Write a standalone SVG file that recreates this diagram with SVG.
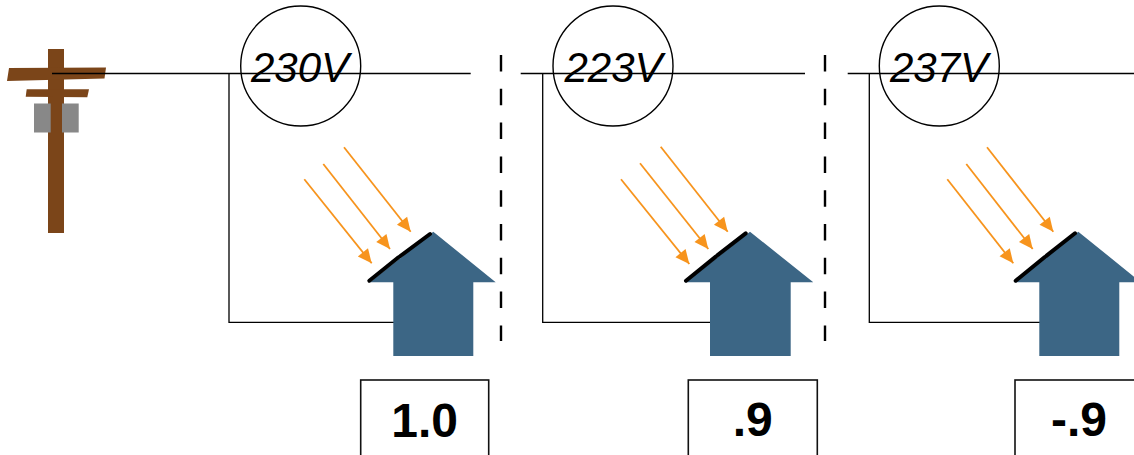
<svg xmlns="http://www.w3.org/2000/svg" width="1134" height="455" viewBox="0 0 1134 455">
  <style>
    .wire { fill: none; stroke: #000; stroke-width: 1.3; }
    .sep { fill: none; stroke: #000; stroke-width: 2.4; stroke-dasharray: 16.5 17.3; }
    .meter { fill: none; stroke: #000; stroke-width: 1.4; }
    .volt { font-family: "Liberation Sans", Arial, sans-serif; font-style: italic; font-size: 42px; text-anchor: middle; fill: #000; }
    .ray { fill: none; stroke: #F7941D; stroke-width: 1.8; marker-end: url(#sun); }
    .house { fill: #3C6685; }
    .panel { fill: none; stroke: #000; stroke-width: 4; stroke-linecap: round; }
    .box { fill: #fff; stroke: #111; stroke-width: 1.6; }
    .val { font-family: "Liberation Sans", Arial, sans-serif; font-weight: bold; font-size: 48px; text-anchor: middle; fill: #000; }
    .wood { fill: #7B4519; }
    .xfmr { fill: #888; }
  </style>
  <defs>
    <marker id="sun" markerUnits="userSpaceOnUse" markerWidth="15" markerHeight="13" refX="14" refY="6.5" orient="auto" overflow="visible">
      <path d="M0,0 L14,6.5 L0,13 z" fill="#F7941D"/>
    </marker>
  </defs>

  <!-- utility pole -->
  <g id="pole">
    <rect class="wood" x="48" y="49" width="16" height="184"/>
    <polygon class="wood" points="9,68 106,67.5 104.5,78.5 7,81"/>
    <polygon class="wood" points="26.7,89.3 89,89.3 87.3,97.3 25.7,96.7"/>
    <rect class="xfmr" x="34" y="103.5" width="16.7" height="29"/>
    <rect class="xfmr" x="62" y="103.5" width="16.7" height="29"/>
  </g>

  <!-- feeder wiring and separators -->
  <g id="connectors">
    <path class="wire" d="M52,73.5 H470.7 M229,73.5 V322.3 H394"/>
    <path class="wire" d="M520.7,73.5 H805 M542.7,73.5 V322.3 H711"/>
    <path class="wire" d="M847.7,73.5 H1134 M869.3,73.5 V322.3 H1040"/>
    <line class="sep" x1="501" y1="55" x2="501" y2="341"/>
    <line class="sep" x1="825" y1="55" x2="825" y2="341"/>
  </g>

  <!-- house 1 -->
  <g id="house1">
    <circle class="meter" cx="300.7" cy="66" r="60"/>
    <text class="volt" x="300" y="82">230V</text>
    <line class="ray" x1="304.3" y1="179.3" x2="371.7" y2="263.3"/>
    <line class="ray" x1="323.3" y1="164" x2="390" y2="249"/>
    <line class="ray" x1="344" y1="147.3" x2="410.7" y2="231.7"/>
    <polygon class="house" points="433.3,231.7 495.7,282.3 473.3,282.3 473.3,356 393.3,356 393.3,282.3 370,282.3"/>
    <line class="panel" x1="369.3" y1="280.7" x2="398.5" y2="257.3"/>
    <line class="panel" x1="400.3" y1="256" x2="430" y2="234"/>
    <rect class="box" x="360.7" y="380" width="128" height="100"/>
    <text class="val" x="424.7" y="437">1.0</text>
  </g>

  <!-- house 2 -->
  <g id="house2">
    <circle class="meter" cx="613" cy="66" r="60"/>
    <text class="volt" x="613.5" y="82">223V</text>
    <line class="ray" x1="621" y1="179.3" x2="689.3" y2="264"/>
    <line class="ray" x1="640" y1="163.3" x2="708.3" y2="249"/>
    <line class="ray" x1="660.7" y1="146.7" x2="727.7" y2="231.7"/>
    <polygon class="house" points="750,231.7 813.3,282.3 790.7,282.3 790.7,356 710,356 710,282.3 686,282.3"/>
    <line class="panel" x1="686" y1="280.7" x2="715.8" y2="256.6"/>
    <line class="panel" x1="717.6" y1="255.2" x2="745.7" y2="233.3"/>
    <rect class="box" x="688.3" y="380" width="129" height="100"/>
    <text class="val" x="752.8" y="436">.9</text>
  </g>

  <!-- house 3 -->
  <g id="house3">
    <circle class="meter" cx="939.3" cy="66" r="60"/>
    <text class="volt" x="939" y="82">237V</text>
    <line class="ray" x1="947.3" y1="179.3" x2="1013.3" y2="263.3"/>
    <line class="ray" x1="966.3" y1="164" x2="1032.7" y2="249"/>
    <line class="ray" x1="987" y1="147.3" x2="1053.3" y2="231.7"/>
    <polygon class="house" points="1078.3,231.7 1141,282.3 1119.3,282.3 1119.3,356 1039.3,356 1039.3,282.3 1015,282.3"/>
    <line class="panel" x1="1015.7" y1="280.7" x2="1044.8" y2="257"/>
    <line class="panel" x1="1046.6" y1="255.6" x2="1075" y2="233.3"/>
    <rect class="box" x="1015" y="380" width="128" height="100"/>
    <text class="val" x="1079" y="436">-.9</text>
  </g>
</svg>
